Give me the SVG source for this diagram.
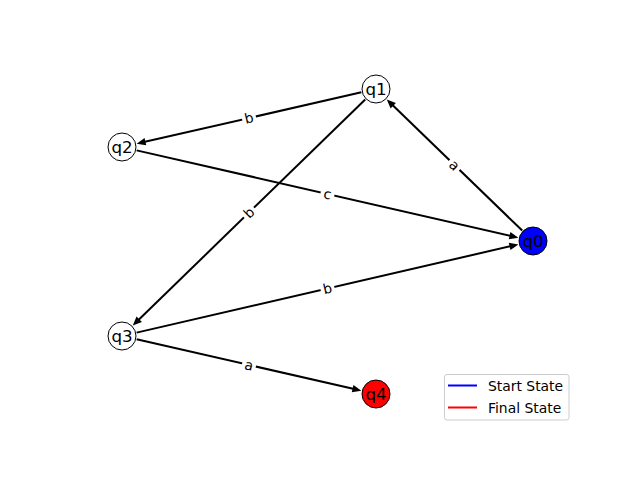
<svg xmlns="http://www.w3.org/2000/svg" width="640" height="480" viewBox="0 0 640 480">
<style>
.edge{stroke:#000;stroke-width:2;fill:none;marker-end:url(#arr)}
.node{stroke:#000;stroke-width:1}
.nl{font-family:"DejaVu Sans",sans-serif;font-size:16.7px;text-anchor:middle;dominant-baseline:central;fill:#000}
.el{font-family:"DejaVu Sans",sans-serif;font-size:13.9px;text-anchor:middle;dominant-baseline:central;fill:#000}
.bg{fill:#fff}
.lg{font-family:"DejaVu Sans",sans-serif;font-size:13.9px;fill:#000}
</style>
<defs>
<marker id="arr" markerUnits="userSpaceOnUse" markerWidth="12" markerHeight="10" viewBox="-6 -5 12 10" refX="0" refY="0" orient="auto">
<path d="M-5,-3.8 L4,0 L-5,3.8 z" fill="#000"/>
</marker>
</defs>
<rect width="640" height="480" fill="#fff"/>
<g id="connectors">
<path class="edge" d="M522.22,230.57 L389.65,102.22"/>
<path class="edge" d="M361.37,92.34 L140.53,142.77"/>
<path class="edge" d="M136.62,150.35 L514.48,236.76"/>
<path class="edge" d="M365.25,99.46 L135.62,322.76"/>
<path class="edge" d="M136.62,332.62 L514.49,245.28"/>
<path class="edge" d="M136.63,339.34 L357.47,389.77"/>
<g transform="translate(454.5,165) rotate(44)"><rect class="bg" x="-7" y="-8" width="14" height="16" rx="2"/><text class="el">a</text></g>
<g transform="translate(249,118) rotate(-12.9)"><rect class="bg" x="-7" y="-8" width="14" height="16" rx="2"/><text class="el">b</text></g>
<g transform="translate(327.5,194) rotate(12.9)"><rect class="bg" x="-7" y="-8" width="14" height="16" rx="2"/><text class="el">c</text></g>
<g transform="translate(249,212.5) rotate(-44.2)"><rect class="bg" x="-7" y="-8" width="14" height="16" rx="2"/><text class="el">b</text></g>
<g transform="translate(327.5,288.5) rotate(-13)"><rect class="bg" x="-7" y="-8" width="14" height="16" rx="2"/><text class="el">b</text></g>
<g transform="translate(249,365) rotate(12.9)"><rect class="bg" x="-7" y="-8" width="14" height="16" rx="2"/><text class="el">a</text></g>
</g>
<g id="q0"><circle class="node" cx="533" cy="241" r="14" fill="#0000ff"/><text class="nl" x="533" y="241">q0</text></g>
<g id="q1"><circle class="node" cx="376" cy="89" r="14" fill="#ffffff"/><text class="nl" x="376" y="89">q1</text></g>
<g id="q2"><circle class="node" cx="122" cy="147" r="14" fill="#ffffff"/><text class="nl" x="122" y="147">q2</text></g>
<g id="q3"><circle class="node" cx="122" cy="336" r="14" fill="#ffffff"/><text class="nl" x="122" y="336">q3</text></g>
<g id="q4"><circle class="node" cx="376" cy="394" r="14" fill="#ff0000"/><text class="nl" x="376" y="394">q4</text></g>
<g id="legend">
<rect x="444.5" y="374.5" width="124.5" height="45.5" rx="2.5" fill="#fff" fill-opacity="0.8" stroke="#cccccc" stroke-width="1"/>
<line x1="448" y1="385.5" x2="477" y2="385.5" stroke="#0000ff" stroke-width="2"/>
<text class="lg" x="488" y="390.5">Start State</text>
<line x1="448" y1="407.5" x2="477" y2="407.5" stroke="#ff0000" stroke-width="2"/>
<text class="lg" x="488" y="412.5">Final State</text>
</g>
</svg>
